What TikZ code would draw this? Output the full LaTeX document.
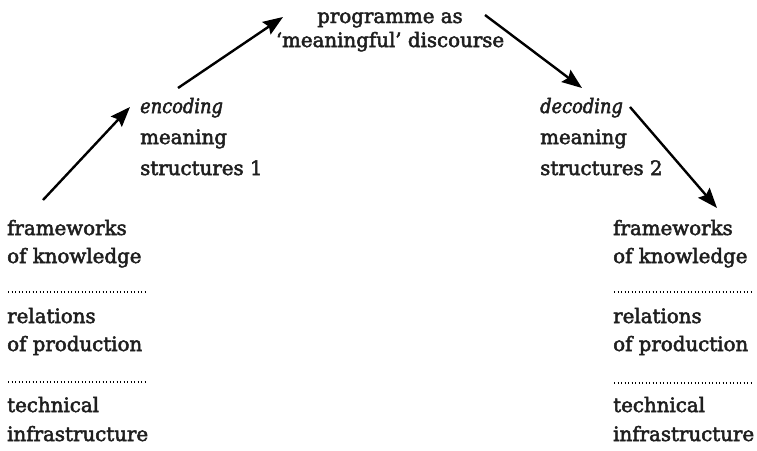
\documentclass[tikz,border=0pt]{standalone}
\usepackage{fontspec}
\setmainfont{DejaVu Serif}[ItalicFont={DejaVu Serif Condensed Italic},UprightFeatures={FakeBold=2.5},ItalicFeatures={FakeBold=2.5}]
\usetikzlibrary{arrows.meta}
\begin{document}
\begin{tikzpicture}[x=1pt,y=-1pt,
  txt/.style={inner sep=0pt, anchor=base west, font=\fontsize{19.8}{26}\selectfont, text=black!88},
  ctxt/.style={inner sep=0pt, anchor=base, font=\fontsize{19.8}{26}\selectfont, text=black!88},
  flow/.style={line width=2.4pt, -{Stealth[length=20pt,width=15pt,inset=3pt]}},
  sep/.style={line width=1.3pt, dash pattern=on 1.2pt off 2.3pt}]
\useasboundingbox (0,0) rectangle (757,450);
% top
\node[ctxt] (p1) at (390,23) {programme as};
\node[ctxt] (p2) at (390,47) {‘meaningful’ discourse};
% encoding
\node[txt] (e1) at (140,113) {\itshape encoding};
\node[txt] (e2) at (140,144) {meaning};
\node[txt] (e3) at (140,175) {structures 1};
% decoding
\node[txt] (d1) at (540,113) {\itshape decoding};
\node[txt] (d2) at (540,144) {meaning};
\node[txt] (d3) at (540,175) {structures 2};
% left column
\node[txt] (l1) at (7,235) {frameworks};
\node[txt] (l2) at (7,263) {of knowledge};
\node[txt] (l3) at (7,323) {relations};
\node[txt] (l4) at (7,351) {of production};
\node[txt] (l5) at (7,412) {technical};
\node[txt] (l6) at (7,441) {infrastructure};
% right column
\node[txt] (r1) at (613,235) {frameworks};
\node[txt] (r2) at (613,263) {of knowledge};
\node[txt] (r3) at (613,323) {relations};
\node[txt] (r4) at (613,351) {of production};
\node[txt] (r5) at (613,412) {technical};
\node[txt] (r6) at (613,441) {infrastructure};
% dotted separators
\coordinate (ls1a) at (8,292); \coordinate (ls1b) at (146,292);
\coordinate (ls2a) at (8,382); \coordinate (ls2b) at (146,382);
\coordinate (rs1a) at (614,292); \coordinate (rs1b) at (753,292);
\coordinate (rs2a) at (614,383); \coordinate (rs2b) at (753,383);
\draw[sep] (ls1a) -- (ls1b);
\draw[sep] (ls2a) -- (ls2b);
\draw[sep] (rs1a) -- (rs1b);
\draw[sep] (rs2a) -- (rs2b);
% arrows
\coordinate (a1s) at (43,200);  \coordinate (a1e) at (130,107);
\coordinate (a2s) at (178,88);  \coordinate (a2e) at (283,17);
\coordinate (a3s) at (485,15);  \coordinate (a3e) at (582,88);
\coordinate (a4s) at (630,107); \coordinate (a4e) at (717,208);
\draw[flow] (a1s) -- (a1e);
\draw[flow] (a2s) -- (a2e);
\draw[flow] (a3s) -- (a3e);
\draw[flow] (a4s) -- (a4e);
\end{tikzpicture}
\end{document}
